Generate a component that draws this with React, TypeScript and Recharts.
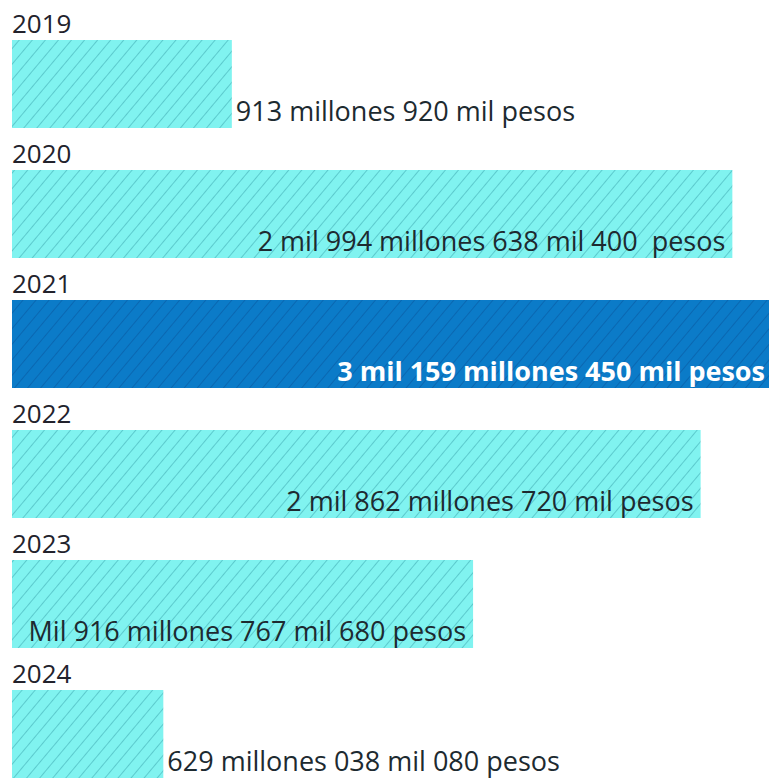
import { Bar, BarChart, Cell, LabelList, XAxis, YAxis } from "recharts";

const years = ["2019", "2020", "2021", "2022", "2023", "2024"];
const amounts = [913920000, 2994638400, 3159450000, 2862720000, 1916767680, 629038080];
const amountLabels = [
  "913 millones 920 mil pesos",
  "2 mil 994 millones 638 mil 400  pesos",
  "3 mil 159 millones 450 mil pesos",
  "2 mil 862 millones 720 mil pesos",
  "Mil 916 millones 767 mil 680 pesos",
  "629 millones 038 mil 080 pesos",
];
const highlightYear = "2021";

const data = years.map((year, i) => ({ year, amount: amounts[i], label: amountLabels[i] }));
const maxAmount = Math.max(...amounts);

const FONT = "'Open Sans', Lato, sans-serif";

function YearLabel(props: any) {
  const { x, y, index } = props;
  return (
    <text x={x} y={y - 7} fill="#22222c" fontSize={26} fontFamily={FONT}>
      {years[index]}
    </text>
  );
}

function AmountLabel(props: any) {
  const { x, y, width, height, index } = props;
  const isHighlight = years[index] === highlightYear;
  // short bars get their label to the right, long bars inside at the end
  const inside = amounts[index] / maxAmount > 0.4;
  const tx = inside ? x + width - 7 : x + width + 4;
  return (
    <text
      x={tx}
      y={y + height - 7}
      textAnchor={inside ? "end" : "start"}
      fill={isHighlight ? "#ffffff" : "#1d2a30"}
      fontSize={27}
      fontWeight={isHighlight ? 700 : 400}
      fontFamily={FONT}
      style={{ whiteSpace: "pre" }}
    >
      {amountLabels[index]}
    </text>
  );
}

export default function App() {
  return (
    <div
      style={{
        position: "absolute",
        top: 0,
        left: 0,
        width: 769,
        height: 778,
        overflow: "hidden",
        background: "#ffffff",
      }}
    >
      <BarChart
        width={775}
        height={810}
        data={data}
        layout="vertical"
        margin={{ top: 19, right: 3, left: 12, bottom: 11 }}
        barCategoryGap={42}
      >
        <defs>
          <pattern
            id="hatchCyan"
            width="10"
            height="10"
            patternUnits="userSpaceOnUse"
            patternTransform="rotate(40)"
          >
            <rect width="10" height="10" fill="#80F3F0" />
            <line x1="0" y1="0" x2="0" y2="10" stroke="#5CCACD" strokeWidth={2} />
          </pattern>
          <pattern
            id="hatchBlue"
            width="10"
            height="10"
            patternUnits="userSpaceOnUse"
            patternTransform="rotate(40)"
          >
            <rect width="10" height="10" fill="#0B7BC8" />
            <line x1="0" y1="0" x2="0" y2="10" stroke="#0A67B1" strokeWidth={2} />
          </pattern>
        </defs>
        <XAxis type="number" domain={[0, maxAmount]} hide />
        <YAxis type="category" dataKey="year" hide />
        <Bar dataKey="amount" barSize={88} isAnimationActive={false}>
          {data.map((d) => (
            <Cell
              key={d.year}
              fill={d.year === highlightYear ? "url(#hatchBlue)" : "url(#hatchCyan)"}
            />
          ))}
          <LabelList dataKey="year" content={<YearLabel />} />
          <LabelList dataKey="label" content={<AmountLabel />} />
        </Bar>
      </BarChart>
    </div>
  );
}
